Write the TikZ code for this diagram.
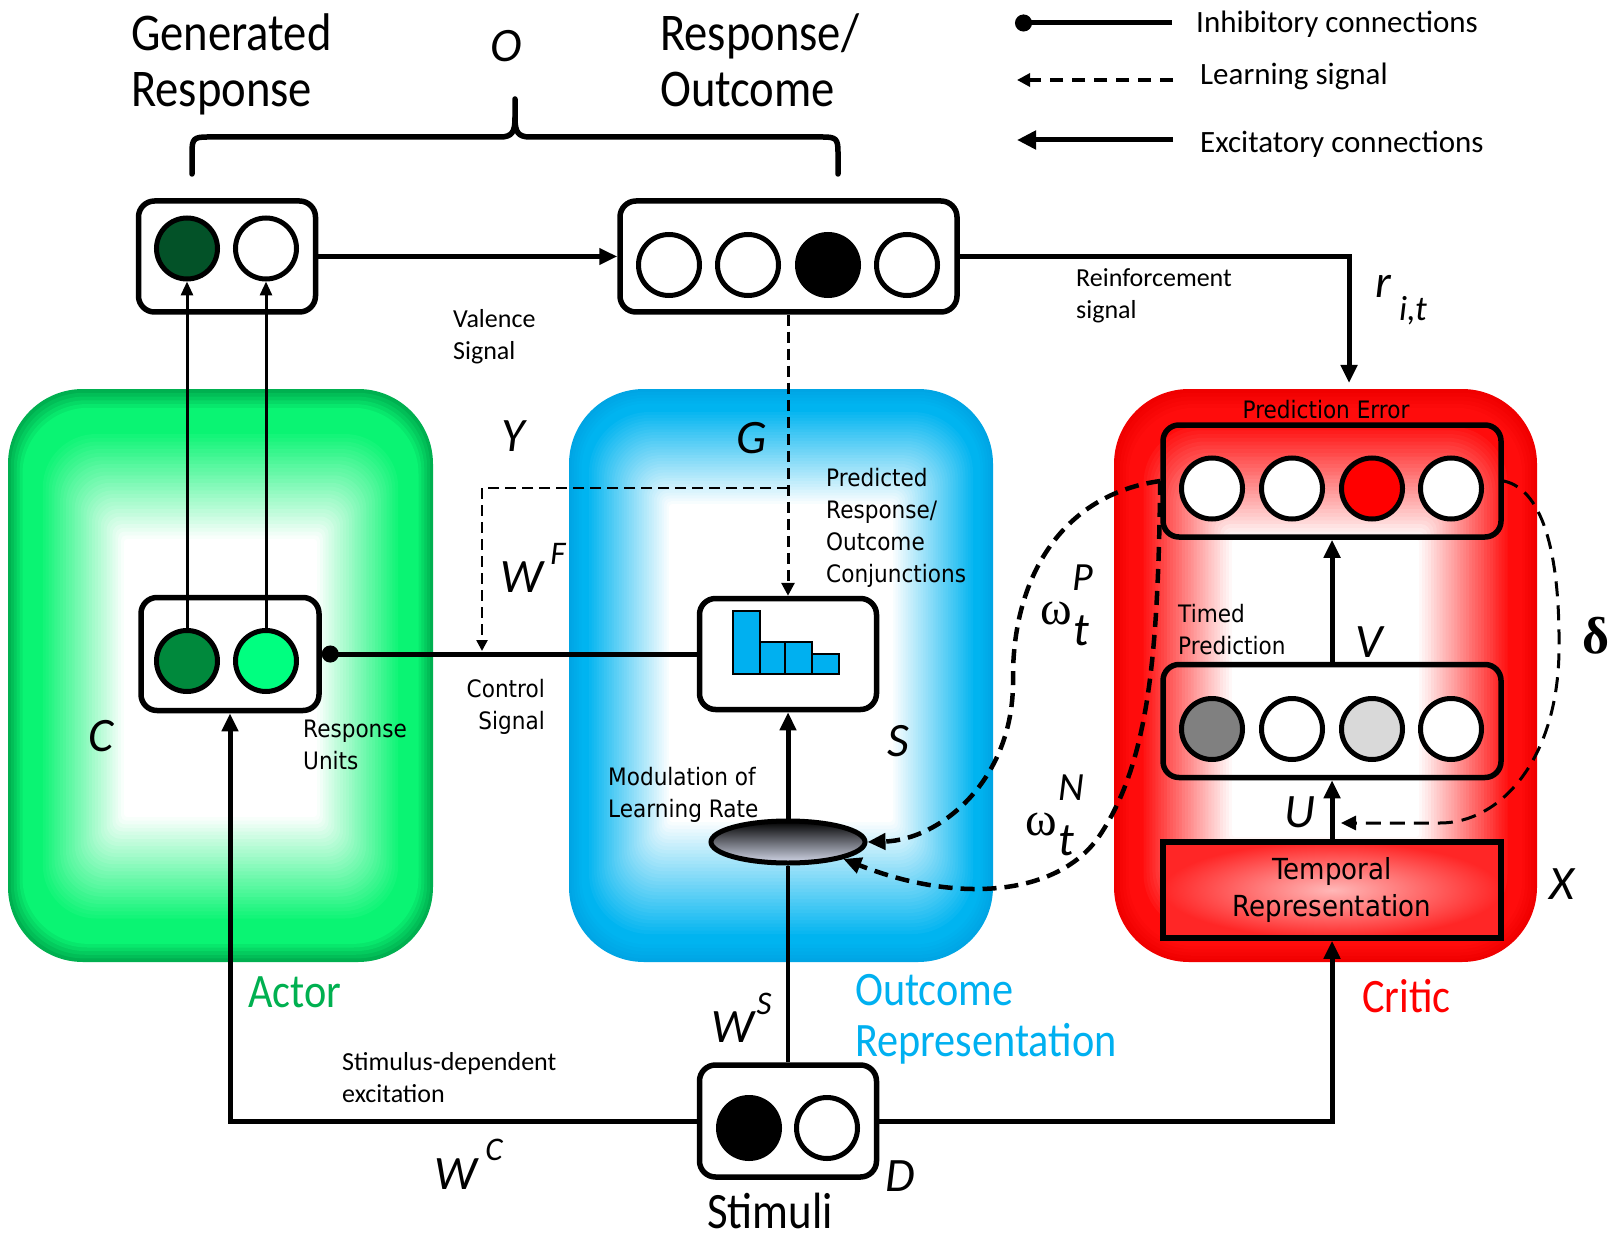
\documentclass[tikz,border=0pt]{standalone}
\usepackage{fontspec}
\setmainfont{Carlito}
\newfontfamily\cn{Carlito}[FakeStretch=0.88]
\newfontfamily\dv{DejaVu Sans}[FakeStretch=0.9]
\newfontfamily\gk{Liberation Serif}
\usetikzlibrary{arrows.meta,shapes.geometric,calc}

\definecolor{gEdge}{RGB}{0,176,80}
\definecolor{gBright}{RGB}{10,244,115}
\definecolor{bEdge}{RGB}{0,165,228}
\definecolor{bBright}{RGB}{0,180,240}
\definecolor{rEdge}{RGB}{240,0,0}
\definecolor{rBright}{RGB}{255,12,12}
\definecolor{gDark}{RGB}{3,82,40}
\definecolor{gMid}{RGB}{0,137,60}
\definecolor{gLight}{RGB}{0,255,128}
\definecolor{cyanB}{RGB}{0,176,240}
\definecolor{ellB}{RGB}{212,217,234}
\definecolor{gray1}{RGB}{128,128,128}
\definecolor{gray2}{RGB}{217,217,217}

% rectangular gradient panel: x1 y1 x2 y2 edge bright insetx insettop insetbottom
% \phold = number of steps (of 40) held at full colour
\def\phold{12}
\newcommand\panelgrad[9]{%
  \foreach \i in {0,...,40}{%
    \pgfmathsetmacro\pax{#1+#7*\i/40}%
    \pgfmathsetmacro\pbx{#3-#7*\i/40}%
    \pgfmathsetmacro\pay{#2+#8*\i/40}%
    \pgfmathsetmacro\pby{#4-#9*\i/40}%
    \pgfmathsetmacro\prr{max(75-1.8*\i,2)}%
    \pgfmathtruncatemacro\ppc{\i<5 ? 100*\i/5 : (\i<\phold ? 100 : 100-100*(\i-\phold)/(40-\phold))}%
    \ifnum\i<5 \colorlet{pcol}{#6!\ppc!#5}\else\colorlet{pcol}{#6!\ppc!white}\fi
    \fill[pcol, rounded corners=\prr pt] (\pax,\pay) rectangle (\pbx,\pby);
  }}

\begin{document}
\begin{tikzpicture}[x=1pt,y=-1pt,
  ubox/.style={draw, line width=5.5pt, rounded corners=16pt, minimum width=177pt, minimum height=111pt, inner sep=0pt},
  neuron/.style={circle, draw, line width=5pt, minimum size=61pt, inner sep=0pt, fill=white},
  exc/.style={line width=5pt, -{Triangle[length=18pt,width=16pt]}},
  thinexc/.style={line width=3pt, -{Triangle[length=14pt,width=12pt]}},
  learn/.style={line width=3pt, dash pattern=on 11pt off 6pt, -{Triangle[length=13pt,width=13pt]}},
  learnthick/.style={line width=4.5pt, dash pattern=on 14pt off 8pt, -{Triangle[length=18pt,width=16pt]}},
  inh/.style={line width=5pt, -{Circle[length=17pt]}},
  lbl/.style={font=\fontsize{24}{28}\dv, anchor=base west, inner sep=0pt},
  clb/.style={font=\fontsize{26}{30}\selectfont, anchor=base west, inner sep=0pt},
  legtxt/.style={font=\fontsize{31}{34}\selectfont, anchor=base west, inner sep=0pt},
  bigtxt/.style={font=\fontsize{53}{60}\cn, anchor=base west, inner sep=0pt},
  coltxt/.style={font=\fontsize{48}{54}\cn, anchor=base west, inner sep=0pt},
  vartxt/.style={font=\fontsize{48}{54}\selectfont\itshape, anchor=base, inner sep=0pt},
  suptxt/.style={font=\fontsize{33}{36}\selectfont\itshape, anchor=base, inner sep=0pt},
  subtxt/.style={font=\fontsize{47}{50}\selectfont\itshape, anchor=base, inner sep=0pt},
  omtxt/.style={font=\fontsize{48}{50}\gk, anchor=base, inner sep=0pt}
]
\useasboundingbox (0,0) rectangle (1614,1238);
\fill[white] (0,0) rectangle (1614,1238);

% ---------- panels ----------
\def\phold{11}
\panelgrad{8}{389}{433}{962}{gEdge}{gBright}{116}{150}{145}
\def\phold{7}
\panelgrad{569}{389}{993}{962}{bEdge}{bBright}{100}{115}{140}
\def\phold{9}
\panelgrad{1114}{389}{1537}{962}{rEdge}{rBright}{118}{150}{125}

% ---------- brace ----------
\draw[line width=5.5pt, line cap=round, line join=round]
  (192,174) -- (192,152) .. controls (192,139) and (194,137) .. (207,137) -- (500,137)
  .. controls (512,137) and (515,132) .. (515,118) -- (515,99);
\draw[line width=5.5pt, line cap=round, line join=round]
  (838,174) -- (838,152) .. controls (838,139) and (836,137) .. (823,137) -- (530,137)
  .. controls (518,137) and (515,132) .. (515,118);

% ---------- top texts ----------
\node[bigtxt] (tGen1) at (131,51) {Generated};
\node[bigtxt] (tGen2) at (131,107) {Response};
\node[bigtxt] (tRO1) at (660,51) {Response/};
\node[bigtxt] (tRO2) at (660,107) {Outcome};
\node[vartxt] (tO) at (506,62) {O};

% ---------- legend ----------
\coordinate (lgI1) at (1015,23);
\coordinate (lgI2) at (1172,23);
\coordinate (lgL1) at (1017,80);
\coordinate (lgL2) at (1173,80);
\coordinate (lgE1) at (1017,140);
\coordinate (lgE2) at (1173,140);
\draw[inh] (lgI2) -- (lgI1);
\draw[learn, line width=4.5pt, dash pattern=on 13pt off 9pt] (lgL2) -- (lgL1);
\draw[exc, -{Triangle[length=19pt,width=18pt]}] (lgE2) -- (lgE1);
\node[legtxt] (tInh) at (1196,33) {Inhibitory connections};
\node[legtxt] (tLrn) at (1200,85) {Learning signal};
\node[legtxt] (tExc) at (1200,153) {Excitatory connections};

% ---------- boxes ----------
\node[ubox, fill=white] (GR) at (227,256.5) {};
\node[neuron, fill=gDark] (gr1) at (187,248.5) {};
\node[neuron] (gr2) at (266,248.5) {};

\node[ubox, fill=white, minimum width=337pt] (RO) at (788.5,256.5) {};
\node[neuron] (ro1) at (669,265) {};
\node[neuron] (ro2) at (748,265) {};
\node[neuron, fill=black] (ro3) at (828,265) {};
\node[neuron] (ro4) at (907,265) {};

\node[ubox, fill=white, minimum width=178pt, minimum height=113pt] (AB) at (230,654) {};
\node[neuron, fill=gMid] (ac1) at (187,661) {};
\node[neuron, fill=gLight] (ac2) at (266,661) {};

\node[ubox, fill=white] (HB) at (788,654) {};
\draw[fill=cyanB, line width=2pt] (733,611) rectangle (760,674);
\draw[fill=cyanB, line width=2pt] (760,642) rectangle (785,674);
\draw[fill=cyanB, line width=2pt] (785,642) rectangle (812,674);
\draw[fill=cyanB, line width=2pt] (812,654) rectangle (839,674);

\node[ellipse, draw, line width=5pt, minimum width=154pt, minimum height=42pt, inner sep=0pt,
      top color=black, bottom color=ellB] (EL) at (788,842) {};

\node[ubox, fill=white, minimum height=112pt] (ST) at (788,1121) {};
\node[neuron, fill=black] (st1) at (749,1128) {};
\node[neuron] (st2) at (827,1128) {};

\node[ubox, minimum width=338pt, minimum height=112pt] (PE) at (1332,481) {};
\node[neuron] (pe1) at (1212,488.5) {};
\node[neuron] (pe2) at (1292,488.5) {};
\node[neuron, fill=red] (pe3) at (1372,488.5) {};
\node[neuron] (pe4) at (1451,488.5) {};

\node[ubox, minimum width=338pt, minimum height=113pt] (TP) at (1332,721) {};
\node[neuron, fill=gray1] (tp1) at (1212,729) {};
\node[neuron] (tp2) at (1292,729) {};
\node[neuron, fill=gray2] (tp3) at (1372,729) {};
\node[neuron] (tp4) at (1451,729) {};

\node[draw, line width=5.5pt, minimum width=338pt, minimum height=96pt, inner sep=0pt,
      inner color=red!28, outer color=red!85, align=center, font=\fontsize{29}{37}\dv] (TR) at (1332,890)
      {Temporal\\Representation};

% ---------- connectors ----------
\draw[exc] (GR.east) -- (RO.west);
\coordinate (rEnd) at (1349,383);
\draw[exc] (RO.east) -| (rEnd);
\draw[thinexc] (ac1.north) -- (gr1.south);
\draw[thinexc] (ac2.north) -- (gr2.south);
\draw[inh] (HB.west) -- (AB.east);
\draw[learn] (HB.north |- RO.south) -- (HB.north);
\coordinate (wfA) at (788,488);
\coordinate (wfB) at (482,651);
\draw[learn, line width=2.5pt, -{Triangle[length=11pt,width=11pt]}] (wfA) -| (wfB);
\draw[line width=3.5pt] (ST.north) -- (EL.south);
\draw[exc] (EL.north) -- (HB.south);
\draw[exc] (ST.west) -| (AB.south);
\draw[exc] (ST.east) -| (TR.south);
\draw[exc] (TR.north) -- (TP.south);
\draw[exc] (TP.north) -- (PE.south);

\coordinate (dEnd) at (1341,823);
\draw[line width=3pt, dash pattern=on 15pt off 9pt, -{Triangle[length=15pt,width=14pt]}]
  (PE.east) .. controls (1545,490) and (1560,560) .. (1559,650)
  .. controls (1558,760) and (1500,823) .. (1440,823) -- (dEnd);
\draw[learnthick] (PE.west) .. controls (1060,495) and (1012,580) .. (1013,680)
  .. controls (1014,780) and (940,840) .. (EL.east);
\draw[learnthick] (PE.west) .. controls (1158,650) and (1150,760) .. (1100,835)
  .. controls (1060,895) and (960,905) .. (EL.-17);

% ---------- labels ----------
\node[clb] (tVal1) at (453,328) {Valence};
\node[clb] (tVal2) at (453,360) {Signal};
\node[clb] (tRei1) at (1076,287) {Reinforcement};
\node[clb] (tRei2) at (1076,319) {signal};
\node[font=\fontsize{46}{48}\selectfont\itshape, anchor=base, inner sep=0pt] (tr) at (1383,298) {r};
\node[font=\fontsize{35}{38}\selectfont\itshape, anchor=base west, inner sep=0pt] (tit) at (1399,321) {i,t};

\node[vartxt] (tY) at (513,451) {Y};
\node[vartxt] (tG) at (752,453) {G};
\node[vartxt] (tWF) at (522,592) {W};
\node[suptxt] (tF) at (558,564) {F};
\node[vartxt] (tC) at (101,751) {C};
\node[vartxt] (tS) at (898,756) {S};
\node[vartxt] (tV) at (1369,657) {V};
\node[vartxt] (tU) at (1300,827) {U};
\node[vartxt] (tX) at (1562,899) {X};
\node[vartxt] (tD) at (900,1191) {D};
\node[vartxt] (tWS) at (733,1042) {W};
\node[suptxt] (tSs) at (764,1014) {S};
\node[vartxt] (tWC) at (456,1189) {W};
\node[suptxt] (tCs) at (494,1160) {C};

\node[omtxt] (om1) at (1056,624) {ω};
\node[suptxt, font=\fontsize{40}{44}\selectfont\itshape] (tP) at (1083,590) {P};
\node[subtxt] (t1) at (1081,645) {t};
\node[omtxt] (om2) at (1041,835) {ω};
\node[suptxt, font=\fontsize{40}{44}\selectfont\itshape] (tN) at (1071,800) {N};
\node[subtxt] (t2) at (1066,855) {t};
\node[font=\fontsize{52}{56}\gk\bfseries, anchor=base, inner sep=0pt] (tdel) at (1596,653) {δ};

\node[lbl] (tPr1) at (826,486) {Predicted};
\node[lbl] (tPr2) at (826,518) {Response/};
\node[lbl] (tPr3) at (826,550) {Outcome};
\node[lbl] (tPr4) at (826,582) {Conjunctions};
\node[lbl] (tRU1) at (303,737) {Response};
\node[lbl] (tRU2) at (303,769) {Units};
\node[lbl, anchor=base east] (tCS1) at (545,697) {Control};
\node[lbl, anchor=base east] (tCS2) at (545,729) {Signal};
\node[lbl] (tML1) at (608,785) {Modulation of};
\node[lbl] (tML2) at (608,817) {Learning Rate};
\node[lbl] (tTP1) at (1178,622) {Timed};
\node[lbl] (tTP2) at (1178,654) {Prediction};
\node[lbl, anchor=base] (tPE) at (1326,418) {Prediction Error};

\node[clb] (tSD1) at (342,1070) {Stimulus-dependent};
\node[clb] (tSD2) at (342,1102) {excitation};

\node[coltxt, text=gEdge] (tAct) at (248,1007) {Actor};
\node[coltxt, text=cyanB] (tOR1) at (855,1005) {Outcome};
\node[coltxt, text=cyanB] (tOR2) at (855,1056) {Representation};
\node[coltxt, text=red] (tCri) at (1362,1012) {Critic};
\node[font=\fontsize{51}{56}\cn, anchor=base, inner sep=0pt, text depth=0pt] (tStim) at (770,1228) {Stimuli};
\end{tikzpicture}
\end{document}
